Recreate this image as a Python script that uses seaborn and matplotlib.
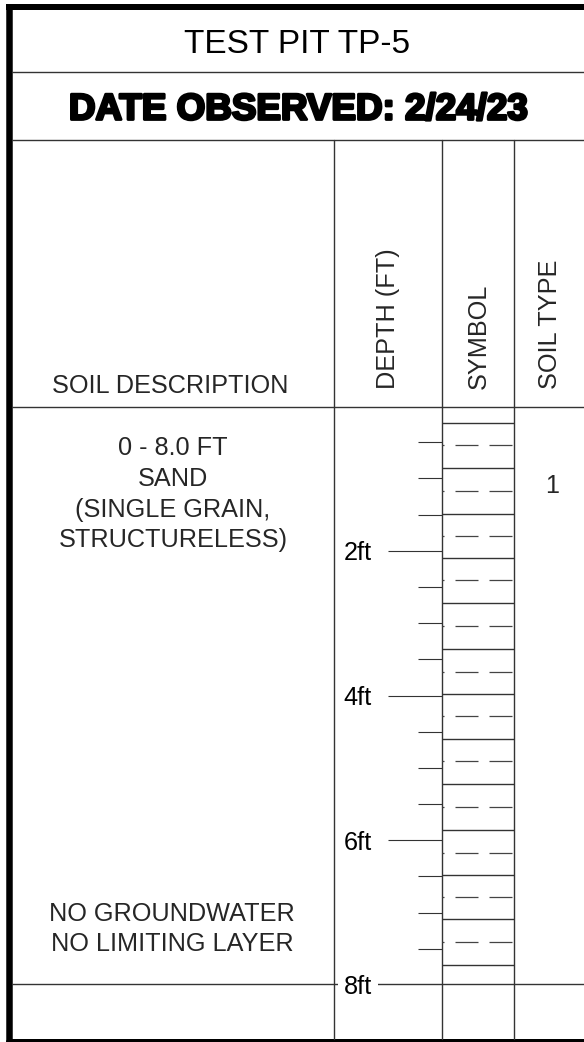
import numpy as np
import pandas as pd
import matplotlib.pyplot as plt
import matplotlib.patheffects as pe
import seaborn as sns

# ---- chart content ----
TITLE = "TEST PIT TP-5"
DATE_LINE = "DATE OBSERVED: 2/24/23"
HEADERS = ["SOIL DESCRIPTION", "DEPTH (FT)", "SYMBOL", "SOIL TYPE"]

DESCRIPTION = ["0 - 8.0 FT", "SAND", "(SINGLE GRAIN,", "STRUCTURELESS)"]
NOTES = ["NO GROUNDWATER", "NO LIMITING LAYER"]
SOIL_TYPE = "1"
SOIL_TYPE_DEPTH = 1.1

MAX_DEPTH = 8.0
major_depths = [2, 4, 6, 8]
major_labels = ["2ft", "4ft", "6ft", "8ft"]
minor_depths = [0.5, 1.0, 1.5, 2.5, 3.0, 3.5, 4.5, 5.0, 5.5, 6.5, 7.0, 7.5]

# boundaries of the hatch boxes in the symbol column (ft)
symbol_lines = [0.23, 0.86, 1.49, 2.10, 2.72, 3.36, 3.98, 4.60, 5.22, 5.86, 6.48, 7.09, 7.72]

# ---- style ----
sns.set_theme(style="white")
plt.rcParams["font.family"] = ["Liberation Sans", "DejaVu Sans"]
plt.rcParams["lines.scale_dashes"] = False

W, H = 584, 1042
LINE = "#333333"
PT = 72 / 100  # points per pixel at dpi 100

fig = plt.figure(figsize=(W / 100, H / 100), dpi=100)

# layout axes in pixel units
ax0 = fig.add_axes([0, 0, 1, 1])
ax0.set_xlim(0, W)
ax0.set_ylim(H, 0)
ax0.axis("off")

# thick outer border
ax0.plot([9.3, W + 5], [7, 7], color="black", lw=6 * PT, solid_capstyle="projecting")
ax0.plot([9.3, 9.3], [7, H + 5], color="black", lw=6.5 * PT)
ax0.plot([9.3, W + 5], [1042, 1042], color="black", lw=6 * PT)

# table rules
for y in [72, 140, 407, 984]:
    ax0.plot([12, W + 5], [y, y], color=LINE, lw=1.0)
for x in [334, 442, 514]:
    ax0.plot([x, x], [140, 1039], color=LINE, lw=1.0)

# title block
ax0.text(297, 53, TITLE, ha="center", va="baseline", fontsize=24, color="black")
ax0.text(298, 119.5, DATE_LINE, ha="center", va="baseline", fontsize=26.5,
         fontweight="bold", color="black",
         path_effects=[pe.withStroke(linewidth=2.0, foreground="black")])

# column headers
TXT = 18.2
ax0.text(170, 393, HEADERS[0], ha="center", va="baseline", fontsize=TXT)
for x, label in zip([388, 479, 550], HEADERS[1:]):
    ax0.text(x, 389, label, ha="center", va="bottom", rotation=90, fontsize=TXT)

# description text
for i, line in enumerate(DESCRIPTION):
    ax0.text(173, 455 + i * 30.8, line, ha="center", va="baseline", fontsize=TXT)
for i, line in enumerate(NOTES):
    ax0.text(172, 921 + i * 30, line, ha="center", va="baseline", fontsize=TXT)

# ---- depth / symbol axes ----
top_px, bot_px = 406, 985
dax = fig.add_axes([442 / W, (H - bot_px) / H, 72 / W, (bot_px - top_px) / H])
dax.patch.set_alpha(0)

box_df = pd.DataFrame({
    "x": np.tile([0.0, 1.0], len(symbol_lines)),
    "depth": np.repeat(symbol_lines, 2),
    "unit": np.repeat(np.arange(len(symbol_lines)), 2),
})
sns.lineplot(data=box_df, x="x", y="depth", units="unit", estimator=None,
             color=LINE, lw=1.0, legend=False, ax=dax)

mids = [(a + b) / 2 for a, b in zip(symbol_lines[:-1], symbol_lines[1:])]
dax.hlines(mids, 0, 1, colors="#444444", lw=0.9,
           linestyles=(21 * PT, (23 * PT, 11 * PT)))

dax.set_xlim(0, 1)
dax.set_ylim(MAX_DEPTH, 0)
dax.set_xlabel("")
dax.set_ylabel("")
dax.set_xticks([])
for s in dax.spines.values():
    s.set_visible(False)

maj_len = 54 * PT
dax.set_yticks(major_depths[:-1], labels=major_labels[:-1])
dax.set_yticks(minor_depths, minor=True)
dax.tick_params(axis="y", which="major", left=True, length=maj_len, width=0.8,
                color=LINE, pad=16 * PT, labelsize=TXT, labelcolor="black")
dax.tick_params(axis="y", which="minor", left=True, length=24 * PT, width=0.8,
                color=LINE)

# bottom depth label sits on the full-width rule
dax.annotate(major_labels[-1], xy=(0, major_depths[-1]),
             xycoords=("axes fraction", "data"),
             xytext=(-(maj_len + 16 * PT), 0), textcoords="offset points",
             ha="right", va="center_baseline", fontsize=TXT, color="black",
             bbox=dict(facecolor="white", edgecolor="none", pad=4))

# soil type
ax0.text(552, top_px + SOIL_TYPE_DEPTH * (bot_px - top_px) / MAX_DEPTH, SOIL_TYPE,
         ha="center", va="center", fontsize=TXT)

fig.savefig("out.png", dpi=100)
